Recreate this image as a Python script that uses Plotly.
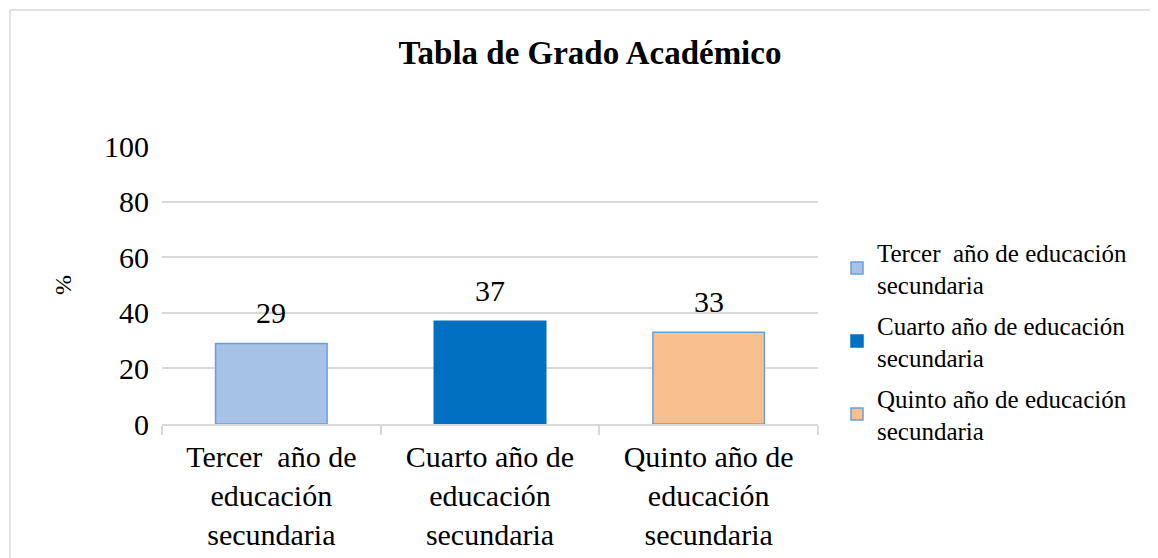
import plotly.graph_objects as go

categories = ["Tercer  año de<br>educación<br>secundaria",
              "Cuarto año de<br>educación<br>secundaria",
              "Quinto año de<br>educación<br>secundaria"]
legend_names = ["Tercer  año de educación<br>secundaria",
                "Cuarto año de educación<br>secundaria",
                "Quinto año de educación<br>secundaria"]
values = [29, 37, 33]
fill_colors = ["#a6c3e7", "#0070c0", "#f8c08f"]
line_colors = ["#6a9fd8", "#0070c0", "#6a9fd8"]
y_ticks = [0, 20, 40, 60, 80, 100]

FONT = "Liberation Serif, Times New Roman, serif"
OFF = 8  # page body margin

fig = go.Figure()
for i in range(len(values)):
    fig.add_trace(go.Bar(
        x=[categories[i]], y=[values[i]], name=legend_names[i],
        marker=dict(color=fill_colors[i], line=dict(color=line_colors[i], width=1.5)),
        width=0.51, legendgroup=str(i),
    ))

W, H = 1158 - OFF, 558 - OFF
L, R, T, B = 162 - OFF, 1158 - 818, 146 - OFF, 558 - 424
pw, ph = W - L - R, H - T - B


def px(x):
    return (x - OFF - L) / pw


def py(y):
    return (H - B - (y - OFF)) / ph


annotations = [dict(text="%", x=px(48), y=py(285), xref="paper", yref="paper",
                    textangle=-90, showarrow=False,
                    font=dict(family=FONT, size=24, color="#000"))]
for i in range(len(values)):
    annotations.append(dict(x=categories[i], y=values[i], xref="x", yref="y",
                            text=str(values[i]), showarrow=False, yanchor="middle",
                            yshift=31, font=dict(family=FONT, size=30, color="#000")))

fig.update_layout(
    width=W, height=H,
    margin=dict(l=L, r=R, t=T, b=B, autoexpand=False),
    paper_bgcolor="white", plot_bgcolor="white",
    barmode="overlay",
    font=dict(family=FONT, color="#000"),
    title=dict(text="<b>Tabla de Grado Académico</b>", x=(590 - OFF) / W, xanchor="center",
               xref="container", y=1 - (52 - OFF) / H, yanchor="middle", yref="container",
               font=dict(family=FONT, size=33, color="#000")),
    showlegend=True,
    legend=dict(x=px(837), xanchor="left", y=py(229), yanchor="top",
                font=dict(family=FONT, size=25, color="#000"),
                tracegroupgap=5, itemwidth=30, bgcolor="rgba(0,0,0,0)"),
    xaxis=dict(showline=True, linecolor="#d9d9d9", linewidth=1.5,
               ticks="outside", tickson="boundaries", ticklen=9, tickcolor="#d9d9d9",
               tickwidth=1.5, tickfont=dict(family=FONT, size=30, color="#000"),
               ticklabelstandoff=5, showgrid=False),
    yaxis=dict(range=[0, 100], tickvals=y_ticks, showgrid=True, gridcolor="#d9d9d9",
               gridwidth=1.5, zeroline=False, showline=False,
               tickfont=dict(family=FONT, size=30, color="#000"), ticklabelstandoff=12),
    annotations=annotations,
    shapes=[dict(type="rect", xref="paper", yref="paper",
                 x0=px(10), x1=px(1170), y0=py(570), y1=py(10),
                 line=dict(color="#d9d9d9", width=1.5), fillcolor="rgba(0,0,0,0)",
                 layer="below")],
)

fig.write_html("out.html")
